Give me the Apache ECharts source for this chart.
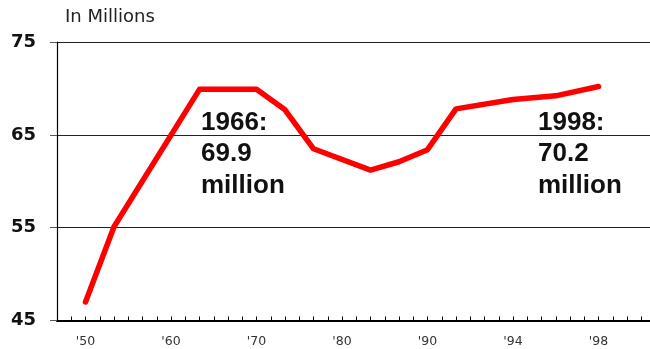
<!DOCTYPE html>
<html>
<head>
<meta charset="utf-8">
<style>
  html, body { margin: 0; padding: 0; background: #fff; }
  #chart { width: 650px; height: 349px; }
</style>
<script src="https://cdn.jsdelivr.net/npm/echarts@6/dist/echarts.min.js"></script>
</head>
<body>
<div id="chart"></div>
<script>
// Horizontal axis: evenly spaced slots, only some of them carry a year label
const slotCount = 43;
const labelSlots = [2, 8, 14, 20, 26, 32, 38];
const labelText = ["'50", "'60", "'70", "'80", "'90", "'94", "'98"];

// Population (millions) at the slots where the line has a point
const pointSlots = [2, 4, 10, 14, 16, 18, 22, 24, 26, 28, 32, 35, 38];
const pointValues = [47.0, 55.1, 69.9, 69.9, 67.7, 63.5, 61.2, 62.1, 63.4, 67.8, 68.8, 69.2, 70.2];

// Value axis ticks
const yTicks = [45, 55, 65, 75];

// Callout years
const peakYear = 1966;
const lastYear = 1998;

const slots = [];
const series = [];
for (let i = 0; i < slotCount; i++) {
  slots.push(String(i));
  series.push(null);
}
pointSlots.forEach((s, i) => { series[s] = pointValues[i]; });

const slotLabel = (idx) => {
  const k = labelSlots.indexOf(idx);
  return k >= 0 ? labelText[k] : '';
};

const peakValue = pointValues[pointSlots.indexOf(10)];
const lastValue = pointValues[pointValues.length - 1];

const calloutStyle = {
  fill: '#111',
  font: 'bold 26px "Liberation Sans", Arial, sans-serif',
  lineHeight: 31.5
};

const chart = echarts.init(document.getElementById('chart'), null, { renderer: 'canvas' });
chart.setOption({
  animation: false,
  backgroundColor: '#fff',
  // plot area runs a little past the right edge of the canvas
  grid: {
    left: 57, top: 42, width: 598.5, height: 278.5,
    containLabel: false,
    outerBoundsMode: 'none'
  },
  xAxis: {
    type: 'category',
    data: slots,
    boundaryGap: false,
    axisLine: { show: true, lineStyle: { color: '#000', width: 2.2 } },
    axisTick: { show: true, inside: true, length: 4, interval: 0, lineStyle: { color: '#000', width: 1 } },
    axisLabel: {
      interval: 0,
      margin: 15,
      color: '#333',
      fontSize: 12.5,
      fontFamily: '"DejaVu Sans", sans-serif',
      formatter: (v, idx) => slotLabel(idx)
    },
    splitLine: { show: false }
  },
  yAxis: {
    type: 'value',
    min: yTicks[0],
    max: yTicks[yTicks.length - 1],
    interval: yTicks[1] - yTicks[0],
    axisLine: { show: true, lineStyle: { color: '#000', width: 1.2 } },
    axisTick: { show: true, inside: false, length: 7, lineStyle: { color: '#555', width: 1 } },
    axisLabel: {
      margin: 21,
      color: '#111',
      fontSize: 18,
      fontWeight: 'bold',
      fontFamily: '"DejaVu Sans", sans-serif'
    },
    splitLine: { show: true, lineStyle: { color: '#222', width: 1 } }
  },
  series: [{
    type: 'line',
    data: series,
    connectNulls: true,
    showSymbol: false,
    symbol: 'none',
    smooth: false,
    lineStyle: { color: '#ff0000', width: 5.5, cap: 'round', join: 'round' },
    z: 3
  }],
  graphic: [
    {
      type: 'text', left: 65, top: 8,
      style: { text: 'In Millions', fill: '#222', font: '18px "DejaVu Sans", sans-serif' }
    },
    {
      type: 'text', left: 201, top: 107, z: 10,
      style: Object.assign({ text: peakYear + ':\n' + peakValue.toFixed(1) + '\nmillion' }, calloutStyle)
    },
    {
      type: 'text', left: 538, top: 107, z: 10,
      style: Object.assign({ text: lastYear + ':\n' + lastValue.toFixed(1) + '\nmillion' }, calloutStyle)
    }
  ]
});
</script>
</body>
</html>
